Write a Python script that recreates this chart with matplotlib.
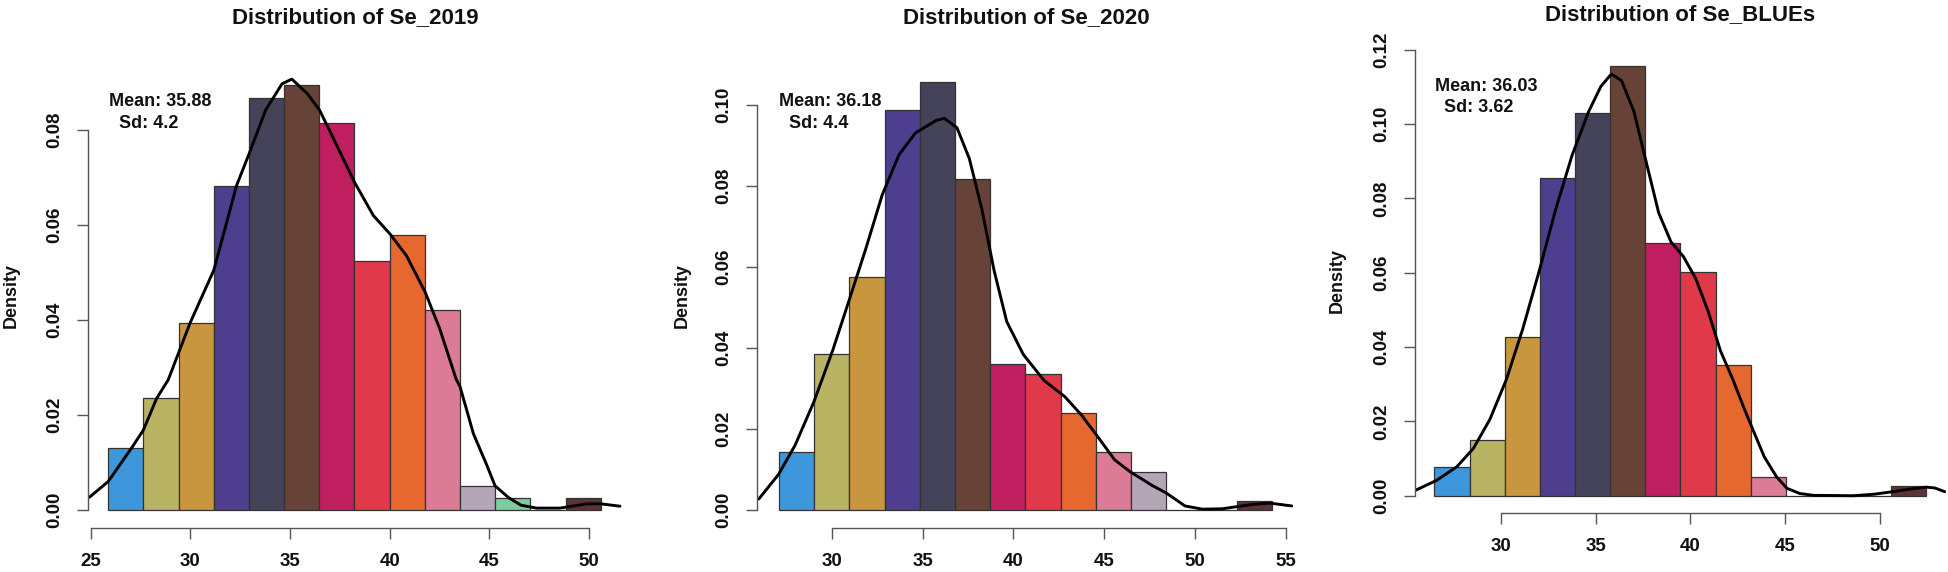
import matplotlib
matplotlib.use("Agg")
import matplotlib.pyplot as plt

plt.rcParams['font.family'] = ['Liberation Sans', 'DejaVu Sans']
plt.rcParams['font.weight'] = 'bold'

# ---------------- data ----------------
bin_colors = ["#3E97DA", "#B9B364", "#C8963F", "#4E3E8E", "#45435A", "#674236",
              "#BF1E5F", "#E0394A", "#E6682F", "#DB7B96", "#B4A6B6", "#7FCB9E",
              "#9A9A9A", "#5C3338"]

titles = ["Distribution of Se_2019", "Distribution of Se_2020", "Distribution of Se_BLUEs"]
mean_labels = ["Mean: 35.88", "Mean: 36.18", "Mean: 36.03"]
sd_labels = ["Sd: 4.2", "Sd: 4.4", "Sd: 3.62"]

edges_2019 = [25.88, 27.645, 29.41, 31.175, 32.94, 34.705, 36.47, 38.235, 40.0,
              41.765, 43.53, 45.295, 47.06, 48.825, 50.59]
dens_2019 = [0.0130, 0.0236, 0.0394, 0.0683, 0.0868, 0.0894, 0.0815, 0.0525,
             0.0578, 0.0420, 0.0051, 0.0026, 0.0, 0.0026]
curve_x_2019 = [24.94, 25.88, 27.06, 27.64, 28.31, 28.89, 29.99, 31.18, 32.32, 32.95,
                33.78, 34.60, 35.09, 35.86, 36.48, 37.10, 38.25, 39.18, 40.02, 40.85,
                41.78, 42.51, 43.34, 43.53, 43.87, 44.20, 44.87, 45.29, 45.97, 46.60,
                47.38, 48.55, 49.89, 50.60, 51.56]
curve_y_2019 = [0.0027, 0.0060, 0.0131, 0.0168, 0.0235, 0.0274, 0.0394, 0.0505, 0.0683, 0.0750,
                0.0842, 0.0897, 0.0907, 0.0877, 0.0842, 0.0789, 0.0689, 0.0620, 0.0581, 0.0535,
                0.0459, 0.0382, 0.0275, 0.0260, 0.0210, 0.0161, 0.0095, 0.0051, 0.0026, 0.0010,
                0.0004, 0.0004, 0.0013, 0.0013, 0.0008]

edges_2020 = [27.10, 29.04, 30.97, 32.91, 34.84, 36.78, 38.72, 40.65, 42.59, 44.52,
              46.46, 48.40, 50.33, 52.27, 54.20]
dens_2020 = [0.01435, 0.0384, 0.0576, 0.0987, 0.1058, 0.0817, 0.0360, 0.0336,
             0.0239, 0.01435, 0.0095, 0.0, 0.0, 0.00233]
curve_x_2020 = [25.99, 27.08, 27.99, 29.02, 30.05, 30.96, 31.87, 32.78, 33.70, 34.61,
                35.75, 36.20, 36.89, 37.57, 38.26, 38.94, 39.63, 40.54, 41.68, 42.82,
                43.73, 44.60, 45.56, 46.40, 47.61, 48.40, 49.43, 50.40, 51.49, 52.25,
                53.20, 54.10, 55.30]
curve_y_2020 = [0.0027, 0.0088, 0.0160, 0.0267, 0.0393, 0.0518, 0.0644, 0.0778, 0.0877, 0.0931,
                0.0962, 0.0967, 0.0944, 0.0868, 0.0743, 0.0590, 0.0465, 0.0384, 0.0320, 0.0280,
                0.0235, 0.0183, 0.0124, 0.0095, 0.0061, 0.0042, 0.0010, 0.0002, 0.0003, 0.0008,
                0.0014, 0.0017, 0.0010]

edges_blues = [26.48, 28.34, 30.19, 32.05, 33.90, 35.76, 37.61, 39.47, 41.33, 43.18,
               45.04, 46.89, 48.75, 50.60, 52.46]
dens_blues = [0.0076, 0.0151, 0.0428, 0.0855, 0.1029, 0.1156, 0.0679, 0.0603,
              0.0353, 0.0051, 0.0, 0.0, 0.0, 0.0025]
curve_x_blues = [25.50, 26.59, 27.67, 28.54, 29.41, 30.28, 31.15, 32.02, 32.89, 33.76,
                 34.63, 35.28, 35.83, 36.37, 37.02, 37.67, 38.33, 38.98, 39.63, 40.28,
                 40.93, 41.59, 42.26, 42.80, 43.31, 43.90, 44.55, 45.10, 45.78, 46.50,
                 48.59, 49.70, 50.70, 51.60, 52.46, 52.90, 53.43]
curve_y_blues = [0.0015, 0.0041, 0.0078, 0.0127, 0.0205, 0.0312, 0.0449, 0.0605, 0.0771, 0.0917,
                 0.1034, 0.1102, 0.1135, 0.1117, 0.1034, 0.0898, 0.0761, 0.0683, 0.0644, 0.0585,
                 0.0498, 0.0390, 0.0311, 0.0240, 0.0177, 0.0105, 0.0051, 0.0020, 0.0006, 0.0001,
                 0.0000, 0.0004, 0.0011, 0.0018, 0.0023, 0.0021, 0.0011]

xticks_list = [[25, 30, 35, 40, 45, 50], [30, 35, 40, 45, 50, 55], [30, 35, 40, 45, 50]]
yticks_list = [[0.00, 0.02, 0.04, 0.06, 0.08], [0.00, 0.02, 0.04, 0.06, 0.08, 0.10],
               [0.00, 0.02, 0.04, 0.06, 0.08, 0.10, 0.12]]

edges_all = [edges_2019, edges_2020, edges_blues]
dens_all = [dens_2019, dens_2020, dens_blues]
cx_all = [curve_x_2019, curve_x_2020, curve_x_blues]
cy_all = [curve_y_2019, curve_y_2020, curve_y_blues]

# ---------------- layout (pixels) ----------------
W, H = 1948, 572
boxes = [  # left, right, top, bottom in pixels
    (88.3, 622.8, 62.0, 528.3),
    (757.3, 1295.3, 63.7, 528.3),
    (1415.0, 1946.0, 48.0, 513.3),
]
xlims = [(24.88, 51.7), (25.91, 55.5), (25.46, 53.5)]
ylims = [(-0.00385, 0.0943), (-0.00452, 0.1102), (-0.00473, 0.1205)]
title_y = [17.5, 17.5, 14.6]
mean_pos = [(109.3, 101.7), (779.4, 102.0), (1435.0, 86.7)]
sd_pos = [(119.0, 123.3), (789.0, 124.0), (1444.4, 108.0)]
ylab_offset = [77, 75, 78]

fig = plt.figure(figsize=(W / 100, H / 100), dpi=100)
fig.patch.set_facecolor("white")

axis_col = "#555555"
for i in range(3):
    l, r, t, b = boxes[i]
    ax = fig.add_axes([l / W, 1 - b / H, (r - l) / W, (b - t) / H])
    ax.set_facecolor("none")
    e = edges_all[i]
    d = dens_all[i]
    lefts = e[:-1]
    widths = [e[k + 1] - e[k] for k in range(len(d))]
    ax.bar(lefts, d, width=widths, align="edge", color=bin_colors[:len(d)],
           edgecolor="#333333", linewidth=0.9)
    ax.plot(cx_all[i], cy_all[i], color="black", linewidth=2.1,
            solid_capstyle="round", solid_joinstyle="round")
    ax.set_xlim(*xlims[i])
    ax.set_ylim(*ylims[i])

    for s in ["top", "right"]:
        ax.spines[s].set_visible(False)
    for s in ["left", "bottom"]:
        ax.spines[s].set_color(axis_col)
        ax.spines[s].set_linewidth(1.0)
    xt = xticks_list[i]
    yt = yticks_list[i]
    ax.spines["bottom"].set_bounds(xt[0], xt[-1])
    ax.spines["left"].set_bounds(yt[0], yt[-1])
    ax.set_xticks(xt)
    ax.set_xticklabels([str(v) for v in xt])
    ax.set_yticks(yt)
    ax.set_yticklabels([f"{v:.2f}" for v in yt], rotation=90, va="center")
    ax.tick_params(axis="both", direction="out", length=8, width=1.0, color=axis_col,
                   labelsize=13.5, pad=10, labelcolor="#111111")
    for lab in ax.get_xticklabels() + ax.get_yticklabels():
        lab.set_fontweight("bold")

    ax.text(-ylab_offset[i] / (r - l), 0.5, "Density", transform=ax.transAxes,
            rotation=90, ha="center", va="center", fontsize=13, fontweight="bold",
            color="#111111")

    fig.text((l + r) / 2 / W, 1 - title_y[i] / H, titles[i], ha="center", va="center",
             fontsize=16, fontweight="bold", color="#111111")
    fig.text(mean_pos[i][0] / W, 1 - mean_pos[i][1] / H, mean_labels[i], ha="left",
             va="center", fontsize=13, fontweight="bold", color="#111111")
    fig.text(sd_pos[i][0] / W, 1 - sd_pos[i][1] / H, sd_labels[i], ha="left",
             va="center", fontsize=13, fontweight="bold", color="#111111")

fig.savefig("out.png", dpi=100, facecolor="white")
